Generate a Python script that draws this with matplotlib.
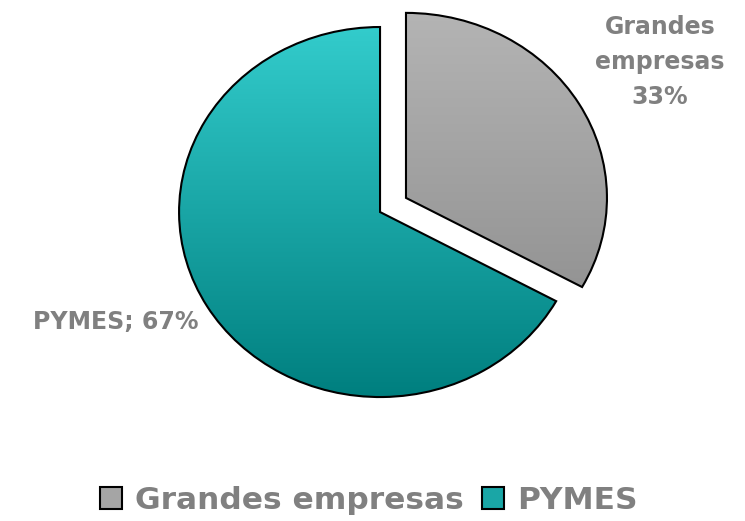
import numpy as np
import matplotlib.pyplot as plt
from matplotlib.patches import Patch
from matplotlib.colors import LinearSegmentedColormap

labels = ["Grandes empresas", "PYMES"]
shares = [33, 67]
explode = [0.15, 0]
top_colors = ["#B4B4B4", "#33CCCC"]
bottom_colors = ["#949494", "#007F7F"]
mid_colors = ["#A5A5A5", "#1AA6A6"]

text_grey = "#808080"
plt.rcParams["font.family"] = ["DejaVu Sans"]

fig = plt.figure(figsize=(7.45, 5.21), dpi=100)
ax = fig.add_axes([0, 0, 1, 1])

wedges, _ = ax.pie(shares, explode=explode, startangle=90, counterclock=False,
                   wedgeprops=dict(edgecolor="black", linewidth=1.5))

grad = np.linspace(0, 1, 256).reshape(-1, 1)
for w, top, bot in zip(wedges, top_colors, bottom_colors):
    w.set_facecolor("none")
    w.set_zorder(3)
    ext = w.get_path().get_extents()
    cmap = LinearSegmentedColormap.from_list("g", [bot, top])
    im = ax.imshow(grad, cmap=cmap, origin="lower", aspect="auto",
                   extent=[ext.x0, ext.x1, ext.y0, ext.y1], zorder=2)
    im.set_clip_path(w)

# stretch the pie the way the original is stretched
ax.set_aspect("auto")
ax.set_xlim(-1.891, 1.816)
ax.set_ylim(-1.670, 1.146)
ax.axis("off")

ax.text(1.393, 0.811, "Grandes\nempresas\n33%", ha="center", va="center",
        fontsize=17, fontweight="bold", color=text_grey, linespacing=1.6)
ax.text(-0.905, -0.595, "PYMES; 67%", ha="right", va="center",
        fontsize=17, fontweight="bold", color=text_grey)

handles = [Patch(facecolor=c, edgecolor="black", linewidth=1.5) for c in mid_colors]
leg = fig.legend(handles, labels, loc="center", bbox_to_anchor=(0.495, 0.04),
                 ncol=2, frameon=False, handlelength=0.7, handleheight=0.7,
                 handletextpad=0.4, columnspacing=0.6,
                 prop=dict(size=22.5, weight="bold"))
for t in leg.get_texts():
    t.set_color(text_grey)

plt.savefig("out.png", dpi=100)
